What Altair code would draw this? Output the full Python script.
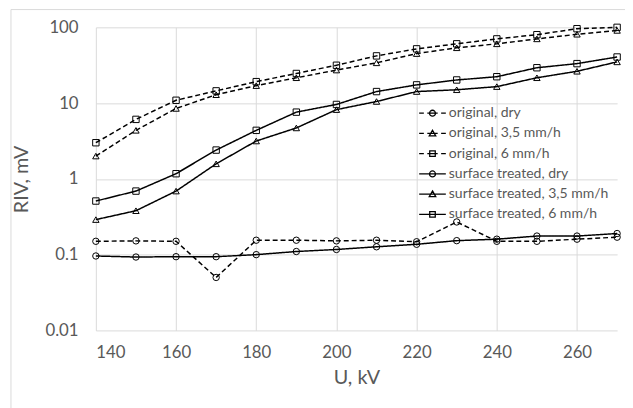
import altair as alt
import pandas as pd

U = [140, 150, 160, 170, 180, 190, 200, 210, 220, 230, 240, 250, 260, 270]

series_names = [
    "original, dry",
    "original, 3,5 mm/h",
    "original, 6 mm/h",
    "surface treated, dry",
    "surface treated, 3,5 mm/h",
    "surface treated, 6 mm/h",
]

orig_dry = [0.15, 0.152, 0.15, 0.050, 0.155, 0.155, 0.152, 0.155, 0.148, 0.27, 0.15, 0.15, 0.16, 0.17]
orig_35 = [2.0, 4.37, 8.5, 12.9, 17.0, 21.6, 27.3, 34.0, 45.0, 53.7, 60.6, 70.4, 81.0, 91.0]
orig_6 = [3.0, 6.1, 10.9, 14.5, 19.2, 24.6, 31.6, 42.0, 52.0, 60.6, 70.4, 80.0, 96.0, 100.0]
surf_dry = [0.096, 0.093, 0.094, 0.094, 0.100, 0.110, 0.117, 0.127, 0.137, 0.153, 0.160, 0.176, 0.176, 0.190]
surf_35 = [0.29, 0.38, 0.69, 1.58, 3.16, 4.7, 8.2, 10.5, 14.2, 15.0, 16.5, 21.6, 26.3, 35.0]
surf_6 = [0.51, 0.69, 1.17, 2.4, 4.37, 7.6, 9.6, 14.2, 17.4, 20.2, 22.3, 29.3, 33.2, 40.6]

all_values = [orig_dry, orig_35, orig_6, surf_dry, surf_35, surf_6]

rows = []
for name, vals in zip(series_names, all_values):
    for u, v in zip(U, vals):
        rows.append({"U": u, "RIV": v, "series": name})
df = pd.DataFrame(rows)

dash_range = [[5, 3], [5, 3], [5, 3], [1, 0], [1, 0], [1, 0]]
marker_range = ["circle", "triangle-up", "square", "circle", "triangle-up", "square"]

circ = "M-0.43,0A0.43,0.43 0 1,0 0.43,0A0.43,0.43 0 1,0 -0.43,0"
tri = "M0,-0.47L0.47,0.36L-0.47,0.36Z"
sq = "M-0.4,-0.4H0.4V0.4H-0.4Z"
dash_line = "M-1.93,0H-1.25M-0.75,0H0.75M1.25,0H1.93"
solid_line = "M-1.93,0H1.93"
legend_range = [
    dash_line + circ, dash_line + tri, dash_line + sq,
    solid_line + circ, solid_line + tri, solid_line + sq,
]

FONT = "Lato"
GRAY = "#595959"

x_enc = alt.X(
    "U:Q",
    scale=alt.Scale(domain=[140, 270], nice=False, zero=False),
    axis=alt.Axis(
        values=[140, 160, 180, 200, 220, 240, 260],
        title="U, kV",
        labelFontSize=17,
        titleFontSize=20,
        labelPadding=14,
        titlePadding=8,
    ),
)
y_enc = alt.Y(
    "RIV:Q",
    scale=alt.Scale(type="log", domain=[0.01, 100], nice=False),
    axis=alt.Axis(
        values=[0.01, 0.1, 1, 10, 100],
        format="~g",
        title="RIV, mV",
        labelFontSize=17,
        titleFontSize=20,
        labelPadding=18,
        titlePadding=14,
    ),
)

base = alt.Chart(df)

frame = alt.Chart(pd.DataFrame({"k": [0]})).mark_rect(
    fill="transparent", stroke="#d9d9d9", strokeWidth=1
).encode(
    x=alt.value(-86), x2=alt.value(560), y=alt.value(-18), y2=alt.value(420)
)

lines = base.mark_line(color="black", strokeWidth=1.5).encode(
    x=x_enc,
    y=y_enc,
    detail="series:N",
    strokeDash=alt.StrokeDash(
        "series:N",
        scale=alt.Scale(domain=series_names, range=dash_range),
        legend=None,
    ),
)

points = base.mark_point(filled=False, color="black", strokeWidth=1, size=42, opacity=1).encode(
    x="U:Q",
    y="RIV:Q",
    shape=alt.Shape(
        "series:N",
        scale=alt.Scale(domain=series_names, range=marker_range),
        legend=None,
    ),
)

legend_layer = base.mark_point(filled=False, color="black", opacity=0).encode(
    x="U:Q",
    y="RIV:Q",
    shape=alt.Shape(
        "series:N",
        scale=alt.Scale(domain=series_names, range=legend_range),
        legend=alt.Legend(
            title=None,
            orient="none",
            legendX=333,
            legendY=79,
            symbolSize=196,
            symbolStrokeColor="black",
            symbolStrokeWidth=1.3,
            symbolOpacity=1,
            symbolFillColor="transparent",
            labelFontSize=14.2,
            labelColor=GRAY,
            labelFont=FONT,
            labelOffset=8.5,
            labelLimit=300,
            rowPadding=4.5,
        ),
    ),
)

chart = (
    alt.layer(frame, lines, points, legend_layer)
    .resolve_scale(shape="independent")
    .properties(
        width=528,
        height=307,
        autosize=alt.AutoSizeParams(type="none"),
        padding={"left": 89, "top": 17, "right": 8, "bottom": 76},
    )
    .configure_view(stroke=None)
    .configure_axis(
        domain=False,
        ticks=False,
        grid=True,
        gridColor="#d9d9d9",
        gridWidth=1,
        labelColor=GRAY,
        titleColor=GRAY,
        labelFont=FONT,
        titleFont=FONT,
        titleFontWeight="normal",
    )
)

chart.save("out.html", embed_options={"renderer": "svg", "actions": False})
